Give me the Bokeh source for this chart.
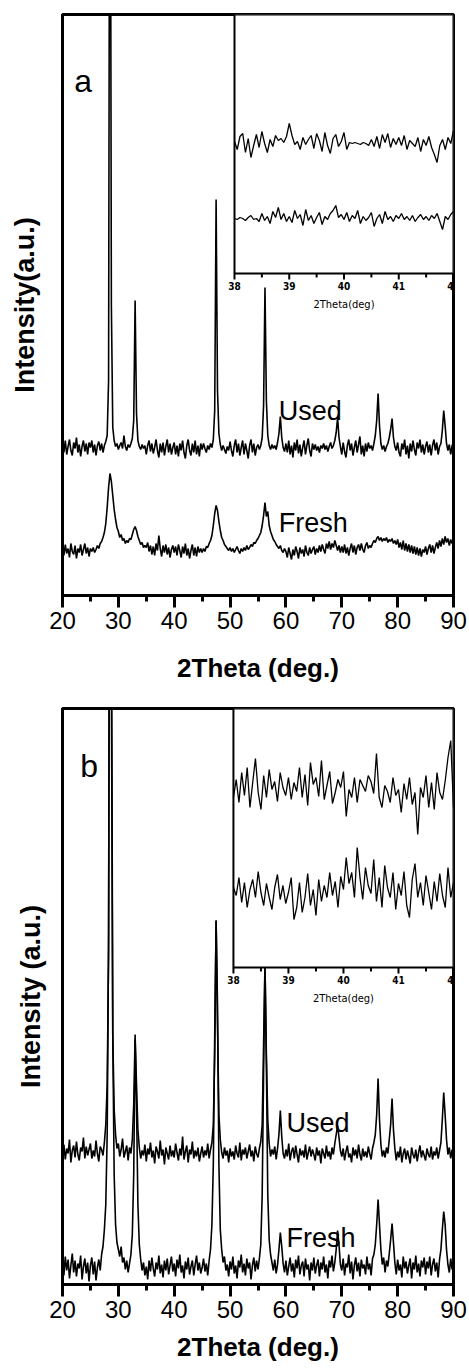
import numpy as np
from bokeh.plotting import figure
from bokeh.models import Range1d, FixedTicker, Label
from bokeh.layouts import column
from bokeh.embed import file_html
from bokeh.resources import INLINE
from bokeh.core.properties import value

# ---------------- data (intensity, arbitrary units; offset traces) ----------------
theta_start, theta_end = 20, 90          # main pattern: 0.25 deg steps
inset_start, inset_end = 38, 42          # inset: 0.05 deg steps

used_a = [
    152,143,155,141,149,156,145,140,153,147,158,143,151,139,149,155,144,152,141,153,
    148,155,143,151,140,150,154,145,152,143,150,154,160,215,1000,290,168,155,149,152,
    146,150,153,147,160,149,145,151,148,152,157,175,295,182,155,149,146,151,147,150,
    141,150,155,144,152,142,148,156,145,138,152,143,153,140,149,156,143,152,141,148,
    153,141,150,139,152,145,155,143,137,150,156,145,140,152,143,155,141,150,139,152,
    146,152,147,143,150,146,152,148,156,185,396,205,162,151,145,150,146,142,149,145,
    154,145,139,150,156,143,152,140,148,155,141,152,145,137,150,156,143,152,140,148,
    151,146,150,158,190,308,195,160,150,146,151,147,150,146,153,162,179,158,148,144,
    152,143,155,141,150,138,153,145,156,142,151,139,148,155,141,150,157,145,139,152,
    146,151,145,149,143,150,147,152,146,150,144,149,153,147,150,155,163,178,158,149,
    141,153,144,138,150,156,145,152,140,148,155,143,151,159,141,150,139,152,144,153,
    147,150,145,152,160,175,202,170,152,146,150,144,149,152,158,166,177,158,149,145,
    153,143,139,152,146,156,141,150,137,152,144,155,146,140,153,147,156,143,151,141,
    149,154,143,151,140,150,156,145,153,141,149,152,165,185,170,152,145,151,141,150,
    153,
]
fresh_a = [
    49,40,51,42,47,38,52,44,41,50,37,47,43,51,40,46,52,42,48,39,
    47,44,48,43,46,50,47,52,54,58,63,72,88,108,122,114,100,86,76,68,
    64,58,61,55,57,52,55,53,57,56,61,66,69,65,59,55,51,53,48,50,
    48,53,44,50,41,49,40,52,45,60,47,39,50,43,51,41,48,38,46,50,
    43,49,40,51,45,38,49,42,52,40,47,37,45,51,40,48,39,49,43,47,
    43,47,44,49,48,52,55,60,70,82,90,85,74,65,58,55,51,49,47,45,
    48,44,47,43,46,49,45,42,47,44,48,45,50,46,48,51,49,53,52,55,
    57,60,63,70,80,93,79,84,70,64,60,56,54,51,49,47,50,45,43,47,
    44,38,48,42,36,46,40,49,44,37,48,42,46,39,50,43,40,48,42,46,
    49,41,47,43,50,44,51,46,42,52,47,54,46,52,48,55,50,45,50,43,
    49,43,51,42,48,40,47,52,43,50,41,48,51,45,52,46,43,50,53,47,
    50,48,52,55,53,57,59,55,58,54,57,55,58,53,56,54,57,52,55,51,
    56,48,53,46,55,45,52,44,51,43,50,42,49,41,48,40,47,39,46,43,
    49,41,47,51,43,50,42,48,53,47,55,49,57,51,59,53,57,50,56,52,
    54,
]
used_b = [
    128,140,125,136,131,145,122,134,139,127,143,130,124,137,133,147,126,138,129,135,
    141,126,134,128,144,131,123,138,135,129,142,160,200,330,1000,600,250,175,150,136,
    141,128,135,146,127,133,139,124,137,131,145,180,250,200,155,137,126,134,129,140,
    123,136,130,142,127,134,121,138,133,126,144,129,135,120,137,131,125,139,128,134,
    127,141,132,124,136,129,148,125,133,139,122,135,130,143,126,134,128,137,123,131,
    138,127,134,129,141,126,135,142,160,230,364,260,170,145,132,126,137,129,134,122,
    136,128,133,125,139,131,127,142,124,135,130,137,126,133,140,128,134,123,138,131,
    127,136,143,160,240,321,230,165,141,128,135,130,138,125,136,150,174,148,131,126,
    135,128,141,124,133,137,126,139,130,122,136,129,134,127,140,125,132,138,128,135,
    130,124,137,129,134,121,136,131,126,139,128,133,125,137,130,141,150,159,147,134,
    128,136,124,133,139,127,131,122,137,129,135,126,140,130,124,136,128,133,127,138,
    131,125,136,142,150,170,206,165,140,128,134,127,137,131,145,160,186,155,136,124,
    133,127,138,122,131,136,125,134,128,121,137,130,126,135,123,132,139,127,134,129,
    124,136,130,127,138,125,133,129,137,126,134,142,165,192,170,145,130,137,126,135,
    128,
]
fresh_b = [
    22,9,28,14,25,6,19,31,12,24,8,21,16,29,5,18,26,11,22,3,
    19,27,10,23,4,17,25,14,30,38,55,80,150,350,1000,700,250,110,60,42,
    35,28,38,22,27,15,24,12,21,30,50,110,245,180,80,40,25,14,22,9,
    18,5,24,13,27,16,8,22,15,29,11,20,7,24,14,26,10,19,28,13,
    21,8,25,16,30,12,19,6,23,15,27,10,18,24,9,20,29,14,22,11,
    17,26,13,21,9,24,35,60,120,250,364,280,120,55,35,22,28,14,20,8,
    23,15,28,11,19,6,24,17,30,12,21,9,26,16,22,5,19,27,13,24,
    15,26,40,90,210,321,220,90,45,30,22,14,25,11,20,35,52,38,21,12,
    24,9,18,27,13,21,7,25,16,29,10,19,23,8,26,15,20,4,22,14,
    27,11,19,25,8,22,15,28,12,20,6,24,17,29,13,22,35,54,40,20,
    14,26,9,21,17,30,11,23,5,19,27,13,22,8,25,16,20,10,28,15,
    21,9,26,30,40,60,85,60,35,20,27,12,24,18,31,45,61,42,22,10,
    25,14,20,7,28,16,23,11,19,26,6,22,15,29,12,21,8,24,17,27,
    10,23,16,28,9,20,26,13,22,7,25,35,55,73,60,35,20,12,26,15,
    22,
]
inset_a_upper = [
    132,124,137,140,121,135,116,128,139,126,142,130,121,134,127,138,133,135,131,137,
    150,138,129,132,124,136,129,134,138,125,140,133,122,141,128,120,135,139,127,132,
    141,124,131,130,131,130,129,131,130,128,134,127,137,125,139,131,140,126,135,129,
    136,128,138,124,133,130,127,136,122,134,128,137,126,119,111,128,134,124,136,130,
    143,
]
inset_a_lower = [
    55,54,56,55,53,56,58,54,55,52,60,53,57,50,62,56,66,54,60,52,
    57,51,63,55,59,48,64,53,58,50,56,61,49,57,54,60,63,68,56,59,
    54,61,52,58,55,63,50,57,53,56,61,47,55,59,50,62,54,57,52,58,
    55,60,54,57,53,58,52,56,59,54,57,53,58,55,60,52,44,57,54,59,
    62,
]
inset_b_upper = [
    170,188,165,195,172,200,160,185,209,175,158,192,170,198,178,186,166,195,180,172,
    190,168,185,176,200,170,193,162,205,183,190,171,207,168,182,196,164,175,188,180,
    196,151,178,170,190,165,188,182,176,192,186,174,214,170,160,182,176,165,190,172,
    178,155,184,168,190,163,175,133,180,170,192,160,185,158,195,175,168,187,210,227,
    160,
]
inset_b_lower = [
    80,72,90,65,85,60,78,88,70,96,75,62,84,70,58,80,93,68,82,64,
    75,90,48,60,85,55,70,94,62,78,52,88,66,82,70,95,72,86,60,91,
    78,110,84,95,70,120,90,68,100,82,74,108,66,90,60,102,80,70,95,58,
    84,72,96,62,50,88,104,70,85,62,92,75,58,86,66,94,72,60,100,70,
    85,
]
x_ticks = [20, 30, 40, 50, 60, 70, 80, 90]
x_minor_ticks = [25, 35, 45, 55, 65, 75, 85]
inset_ticks = [38, 39, 40, 41, 42]
inset_minor_ticks = [38.5, 39.5, 40.5, 41.5]

FONT = "Liberation Sans"
COND = "DejaVu Sans Condensed"


def make_panel(used, fresh, in_up, in_lo, g, ylabel, letter, letter_xy,
               used_xy, fresh_xy, ylab_standoff, xlab_standoff):
    fh = g["height"] - g["top"] - g["bottom"]
    p = figure(width=g["width"], height=g["height"],
               x_range=Range1d(theta_start, theta_end), y_range=Range1d(0, fh),
               min_border_left=g["left"], min_border_right=g["right"],
               min_border_top=g["top"], min_border_bottom=g["bottom"],
               output_backend="svg", toolbar_location=None)
    p.background_fill_color = "white"
    p.border_fill_color = "white"
    p.grid.visible = False
    p.outline_line_color = "black"
    p.outline_line_width = 3
    p.outline_line_alpha = 1

    xa = p.xaxis[0]
    xa.ticker = FixedTicker(ticks=x_ticks, minor_ticks=x_minor_ticks)
    xa.axis_line_width = 3
    xa.major_tick_line_width = 3
    xa.minor_tick_line_width = 3
    xa.major_tick_in = 0
    xa.major_tick_out = 12
    xa.minor_tick_in = 0
    xa.minor_tick_out = 6
    xa.major_label_text_font = FONT
    xa.major_label_text_font_size = "24px"
    xa.major_label_text_color = "black"
    xa.major_label_standoff = 4
    xa.axis_label = "2Theta (deg.)"
    xa.axis_label_text_font = FONT
    xa.axis_label_text_font_size = "26px"
    xa.axis_label_text_font_style = "bold"
    xa.axis_label_text_color = "black"
    xa.axis_label_standoff = xlab_standoff

    ya = p.yaxis[0]
    ya.ticker = FixedTicker(ticks=[])
    ya.axis_line_width = 3
    ya.major_tick_out = 0
    ya.major_tick_in = 0
    ya.minor_tick_out = 0
    ya.minor_tick_in = 0
    ya.major_label_standoff = 0
    ya.axis_label = ylabel
    ya.axis_label_text_font = FONT
    ya.axis_label_text_font_size = "27px"
    ya.axis_label_text_font_style = "bold"
    ya.axis_label_text_color = "black"
    ya.axis_label_standoff = ylab_standoff

    x_main = np.linspace(theta_start, theta_end, len(used))
    p.line(x_main, used, line_color="black", line_width=1.6)
    p.line(x_main, fresh, line_color="black", line_width=1.6)

    # inset, drawn in its own ranges
    il, iw, ih = g["inset_left"], g["inset_w"], g["inset_h"]
    span = inset_end - inset_start
    p.extra_x_ranges = {"ix": Range1d(inset_start - il / iw * span, inset_end)}
    p.extra_y_ranges = {"iy": Range1d(-(fh - ih), ih)}
    kw = dict(x_range_name="ix", y_range_name="iy")
    p.quad(left=inset_start, right=inset_end, bottom=0, top=ih,
           fill_color="white", line_color="black", line_width=2, **kw)
    x_in = np.linspace(inset_start, inset_end, len(in_up))
    p.line(x_in, in_up, line_color="black", line_width=1.3, **kw)
    p.line(x_in, in_lo, line_color="black", line_width=1.3, **kw)
    p.segment(x0=inset_ticks, y0=0, x1=inset_ticks, y1=-6,
              line_color="black", line_width=2, **kw)
    p.segment(x0=inset_minor_ticks, y0=0, x1=inset_minor_ticks, y1=-4,
              line_color="black", line_width=2, **kw)
    p.text(x=inset_ticks, y=-8, text=[str(t) for t in inset_ticks],
           text_font=value(COND), text_font_size="10px", text_font_style="bold",
           text_align="center", text_baseline="top", text_color="black", **kw)
    p.text(x=[(inset_start + inset_end) / 2], y=-24, text=["2Theta(deg)"],
           text_font=value(COND), text_font_size="11px",
           text_align="center", text_baseline="top", text_color="black", **kw)

    p.add_layout(Label(x=letter_xy[0], y=letter_xy[1], text=letter,
                       text_font=FONT, text_font_size="32px", text_color="black",
                       text_baseline="alphabetic"))
    p.add_layout(Label(x=used_xy[0], y=used_xy[1], text="Used",
                       text_font=FONT, text_font_size="27px", text_color="black",
                       text_baseline="alphabetic"))
    p.add_layout(Label(x=fresh_xy[0], y=fresh_xy[1], text="Fresh",
                       text_font=FONT, text_font_size="27px", text_color="black",
                       text_baseline="alphabetic"))
    return p


geom_a = dict(width=469, height=692, left=62, right=16, top=14, bottom=97,
              inset_left=172, inset_w=219, inset_h=259)
geom_b = dict(width=469, height=676, left=55, right=16, top=16, bottom=84,
              inset_left=174, inset_w=224, inset_h=259)

pa = make_panel(used_a, fresh_a, inset_a_upper, inset_a_lower, geom_a,
                "Intensity(a.u.)", "a", (22.1, 515), (58.7, 185), (58.7, 73),
                ylab_standoff=23, xlab_standoff=21)
pb = make_panel(used_b, fresh_b, inset_b_upper, inset_b_lower, geom_b,
                "Intensity (a.u.)", "b", (23.2, 519), (60.1, 162), (60.1, 47),
                ylab_standoff=17, xlab_standoff=11)

layout = column(pa, pb, spacing=0)
open("out.html", "w").write(file_html(layout, INLINE))
